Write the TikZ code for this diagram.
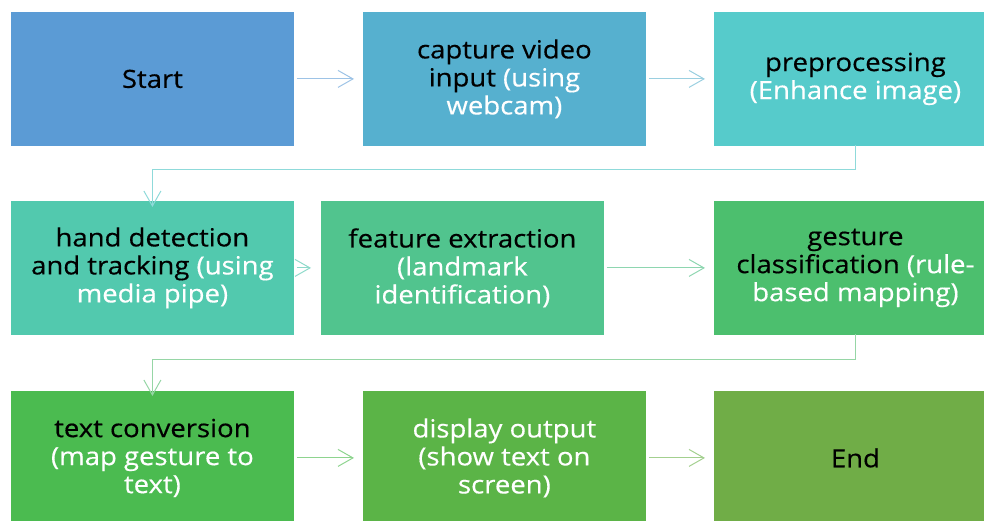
\documentclass[tikz,border=0pt]{standalone}
\usepackage{fontspec}
\setmainfont{Open Sans}[FakeStretch=1.1, FakeBold=0.4]
\usetikzlibrary{arrows.meta}
\definecolor{cStart}{HTML}{5B9BD5}
\definecolor{cCap}{HTML}{56B0CF}
\definecolor{cPre}{HTML}{56CBCB}
\definecolor{cHand}{HTML}{52C9AE}
\definecolor{cFeat}{HTML}{51C48E}
\definecolor{cGest}{HTML}{4CBF6E}
\definecolor{cText}{HTML}{4BBB50}
\definecolor{cDisp}{HTML}{5BB447}
\definecolor{cEnd}{HTML}{70AD47}
\definecolor{aStart}{HTML}{9DC3E6}
\definecolor{aCap}{HTML}{9ACFE0}
\definecolor{aPre}{HTML}{8FDADA}
\definecolor{aHand}{HTML}{8EDACA}
\definecolor{aFeat}{HTML}{8ED6B0}
\definecolor{aGest}{HTML}{96D6A6}
\definecolor{aText}{HTML}{8ED48F}
\definecolor{aDisp}{HTML}{A3D08F}
\tikzset{
  x=1pt, y=-1pt,
  box/.style={draw=white, line width=0.8pt, minimum width=284pt, minimum height=135pt,
    inner sep=0pt, align=center, font=\fontsize{25}{28}\selectfont, text=black, anchor=north west},
  flow/.style={line width=1.1pt, -{Straight Barb[length=15pt,width=17pt,line width=1pt]}},
}
\newcommand{\wt}[1]{\textcolor{white}{#1}}
\begin{document}
\begin{tikzpicture}
\useasboundingbox (0,0) rectangle (984,520);
\clip (0,0) rectangle (984,520);
\node[box, fill=cStart] (start) at (10,11) {Start};
\node[box, fill=cCap] (cap) at (362,11) {capture video\\input \wt{(using}\\\wt{webcam)}};
\node[box, fill=cPre] (pre) at (713,11) {preprocessing\\\wt{(Enhance image)}};
\node[box, fill=cHand] (hand) at (10,200) {hand detection\\and tracking \wt{(using}\\\wt{media pipe)}};
\node[box, fill=cFeat] (feat) at (320,200) {feature extraction\\\wt{(landmark}\\\wt{identification)}};
\node[box, fill=cGest] (gest) at (713,200) {gesture\\classification \wt{(rule-}\\\wt{based mapping)}};
\node[box, fill=cText] (txt) at (10,390) {text conversion\\\wt{(map gesture to}\\\wt{text)}};
\node[box, fill=cDisp] (disp) at (362,390) {\wt{display output}\\\wt{(show text on}\\\wt{screen)}};
\node[box, fill=cEnd] (end) at (713,390) {End};

\draw[flow, aStart] ([xshift=2pt]start.east) -- ([xshift=-8pt]cap.west);
\draw[flow, aCap] ([xshift=2pt]cap.east) -- ([xshift=-8pt]pre.west);
\draw[flow, aPre] ([yshift=2pt]pre.south) -- ++(0,25) -| ([yshift=-7pt]hand.north);
\draw[flow, aHand] ([xshift=2pt]hand.east) -- ([xshift=-9pt]feat.west);
\draw[flow, aFeat] ([xshift=2pt]feat.east) -- ([xshift=-8pt]gest.west);
\draw[flow, aGest] ([yshift=2pt]gest.south) -- ++(0,26) -| ([yshift=-6pt]txt.north);
\draw[flow, aText] ([xshift=2pt]txt.east) -- ([xshift=-8pt]disp.west);
\draw[flow, aDisp] ([xshift=2pt]disp.east) -- ([xshift=-8pt]end.west);
\end{tikzpicture}
\end{document}
